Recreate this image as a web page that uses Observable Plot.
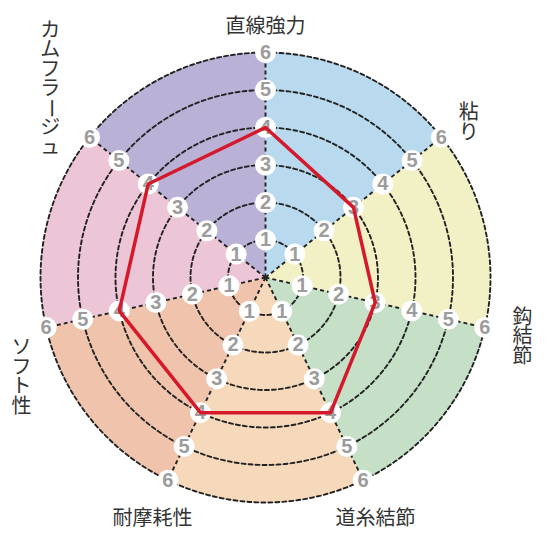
<!DOCTYPE html>
<html><head><meta charset="utf-8">
<script src="https://cdn.jsdelivr.net/npm/d3@7"></script>
<script src="https://cdn.jsdelivr.net/npm/@observablehq/plot@0.6"></script>
<style>body{margin:0;background:#fff;} #chart svg{display:block;}</style>
</head><body><div id="chart"></div>
<script>
// ---- data ----
const axes = ["直線強力","粘り","鈎結節","道糸結節","耐摩耗性","ソフト性","カムフラージュ"];
const values = [4, 3, 3, 4, 4, 4, 4];
const ringLevels = [1, 2, 3, 4, 5, 6];
const sectorColors = ["#b8d9ee","#f2f1c6","#c6dfc7","#f6d9ba","#f0c4ac","#ecc6d6","#b9b1d6"];
const verticalLabels = [false, true, true, false, false, true, true];
// layout nudges for axis titles (pixels)
const labelNudge = [[0,12],[-2,9],[1,1],[-4,5],[1,5],[12,41],[-10,-25]];

// ---- geometry helpers ----
const unit = 37.5; // pixels per value step
const n = axes.length;
const maxV = d3.max(ringLevels);
const ang = i => i * 2 * Math.PI / n;
const px = (r, a) => r * Math.sin(a);
const py = (r, a) => r * Math.cos(a);
const steps = 90;

const sectorPolys = axes.map((_, i) => {
  const pts = [{x: 0, y: 0}];
  for (let k = 0; k <= steps; k++) {
    const a = ang(i) + (ang(i + 1) - ang(i)) * k / steps;
    pts.push({x: px(maxV, a), y: py(maxV, a)});
  }
  pts.push({x: 0, y: 0});
  return pts;
});

const ringPts = ringLevels.flatMap(level =>
  d3.range(0, 361).map(k => ({level, x: px(level, k * Math.PI / 180), y: py(level, k * Math.PI / 180)}))
);

const spokes = axes.map((name, i) => ({name, x2: px(maxV, ang(i)), y2: py(maxV, ang(i))}));

const tickPts = axes.flatMap((name, i) =>
  ringLevels.map(level => ({level, x: px(level, ang(i)), y: py(level, ang(i))}))
);

const valuePts = values.map((v, i) => ({x: px(v, ang(i)), y: py(v, ang(i))}));
valuePts.push(valuePts[0]);

const labelR = 7;
const charStep = 19.5; // px between stacked characters

const labelMarks = axes.map((name, i) => {
  const cx = px(labelR, ang(i)), cy = py(labelR, ang(i));
  const common = {dx: labelNudge[i][0], dy: labelNudge[i][1], fontSize: 20, fill: "#333",
    fontFamily: "Noto Sans CJK JP, sans-serif"};
  if (!verticalLabels[i]) {
    return Plot.text([name], {x: () => cx, y: () => cy, text: d => d, ...common});
  }
  const chars = Array.from(name);
  const m = chars.length;
  return Plot.text(chars.map((c, k) => ({c, k})), {
    x: () => cx,
    y: d => cy - (d.k - (m - 1) / 2) * charStep / unit,
    text: "c",
    rotate: d => (d.c === "ー" ? 90 : 0),
    ...common
  });
});

const marks = [
  ...sectorPolys.map((pts, i) => Plot.line(pts, {x: "x", y: "y", fill: sectorColors[i], stroke: "none", curve: "linear"})),
  Plot.line(ringPts, {x: "x", y: "y", z: "level", stroke: "#222", strokeWidth: 1.9, strokeDasharray: "4 3"}),
  Plot.link(spokes, {x1: () => 0, y1: () => 0, x2: "x2", y2: "y2", stroke: "#222", strokeWidth: 1.9, strokeDasharray: "4 3"}),
  Plot.dot(tickPts, {x: "x", y: "y", r: 10.5, fill: "white", stroke: "none"}),
  Plot.text(tickPts, {x: "x", y: "y", text: d => String(d.level), fill: "#9c9c9c", fontSize: 20, fontWeight: "bold", fontFamily: "Liberation Sans, Arial, sans-serif"}),
  Plot.line(valuePts, {x: "x", y: "y", stroke: "#d5192b", strokeWidth: 3.5, strokeLinejoin: "round"}),
  ...labelMarks
];

const chart = Plot.plot({
  width: 550, height: 550, margin: 0,
  x: {domain: [-265/unit, 285/unit], axis: null},
  y: {domain: [-273/unit, 277/unit], axis: null},
  style: {background: "white", overflow: "visible"},
  marks
});

document.getElementById("chart").append(chart);
</script>
</body></html>
